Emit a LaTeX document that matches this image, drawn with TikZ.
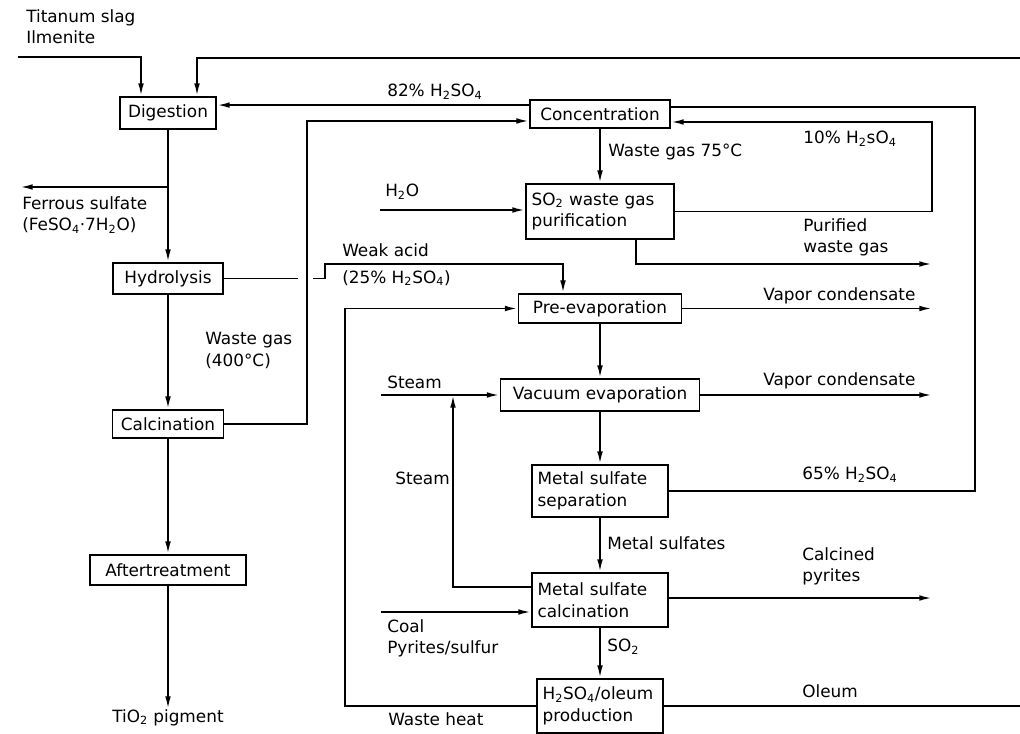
\documentclass[tikz,border=0pt]{standalone}
\usepackage{fontspec}
\setmainfont{DejaVu Sans}
\usepackage{tikz}
\usetikzlibrary{arrows.meta, calc, positioning}

\newcommand{\lblfont}{\fontsize{12}{15.5}\selectfont}
\newcommand{\hso}[1][S]{H\textsubscript{2}#1O\textsubscript{4}}

\tikzset{
	unit/.style={draw, line width=1.3pt, inner sep=4pt, font=\lblfont},
	unittwo/.style={unit, align=left},
	lbl/.style={inner sep=0pt, font=\lblfont, align=left, anchor=north west},
	flow/.style={line width=1.3pt, -{Latex[length=9pt,width=4pt]}},
	openflow/.style={line width=1.3pt, -{Latex[open,length=9pt,width=4pt]}},
	pipe/.style={line width=1.3pt}
}

\begin{document}
\begin{tikzpicture}[x=0.025cm, y=-0.025cm]
		\useasboundingbox (0,0) rectangle (1020,734);
		% pigment line
		\node[unit, minimum width=2.4cm, minimum height=0.8cm] (dig) at (168,113) {Digestion};
		\node[unit, minimum width=2.75cm, minimum height=0.775cm] (hyd) at (168,278.5) {Hydrolysis};
		\node[unit, minimum width=2.775cm, minimum height=0.7cm] (calc) at (168,424) {Calcination};
		\node[unit, minimum width=3.9cm, minimum height=0.75cm] (after) at (168,570) {Aftertreatment};
		\node[lbl, anchor=north] (pig) at (168,709) {TiO\textsubscript{2} pigment};
		% acid recovery
		\node[unit, minimum width=3.5cm, minimum height=0.7cm] (conc) at (600,114) {Concentration};
		\node[unittwo, text width=3.42cm, minimum height=1.375cm] (so2) at (600,211.5) {SO\textsubscript{2} waste gas\\purification};
		\node[unit, minimum width=4.075cm, minimum height=0.725cm] (pre) at (600,308.5) {Pre-evaporation};
		\node[unit, minimum width=4.975cm, minimum height=0.8cm] (vac) at (600,395) {Vacuum evaporation};
		\node[unittwo, text width=3.12cm, minimum height=1.3cm] (sep) at (600,491) {Metal sulfate\\separation};
		\node[unittwo, text width=3.12cm, minimum height=1.35cm] (mcal) at (600,600) {Metal sulfate\\calcination};
		\node[unittwo, text width=2.87cm, minimum height=1.35cm] (ole) at (600,706) {\hso/oleum\\production};
		
		\coordinate (tsin) at (18,57);
		\coordinate (tsbend) at (141,57);
		\coordinate (retin) at (1020,58);
		\coordinate (retbend) at (197,58);
		\coordinate (fsj) at (168,187);
		\coordinate (fsout) at (20,187);
		\coordinate (h82) at ([yshift=-0.15cm]conc.north west);
		\coordinate (r10) at (932,122);
		\coordinate (pwout) at (932,264);
		\coordinate (h2oin) at (380,210);
		\coordinate (wgx) at (307,121);
		\coordinate (wa1) at (298,278.5);
		\coordinate (wa2) at (313,278.5);
		\coordinate (wa3) at (325,264);
		\coordinate (wa4) at (563,264);
		\coordinate (vc1) at (932,308.5);
		\coordinate (vc2) at (932,395);
		\coordinate (stin) at (381,395);
		\coordinate (r65) at (975,107);
		\coordinate (stx) at (453,587);
		\coordinate (coin) at (381,612);
		\coordinate (cpout) at (932,598);
		\coordinate (olout) at (1020,706);
		\coordinate (wh) at (345,706);
		
		\draw[flow] (tsin) -- (tsbend) -- (tsbend |- dig.north);
		\draw[flow] (retin) -- (retbend) -- (retbend |- dig.north);
		\draw[flow] (dig) -- (hyd);
		\draw[openflow] (fsj) -- (fsout);
		\draw[flow] (hyd) -- (calc);
		\draw[flow] (calc) -- (after);
		\draw[flow] (after) -- (pig);
		
		\draw[flow] (h82) -- (h82 -| dig.east);
		\draw[flow] (conc) -- (so2);
		\draw[flow] (h2oin) -- (h2oin -| so2.west);
		\draw[flow] (so2.east) -| (r10) -- (r10 -| conc.east);
		\draw[flow] ([xshift=0.9cm]so2.south) |- (pwout);
		\draw[flow] (calc.east) -| (wgx) -- (wgx -| conc.west);
		\draw[pipe] (hyd.east) -- (wa1);
		\draw[flow] (wa2) -| (wa3) -- (wa4) -- (wa4 |- pre.north);
		\draw[flow] (pre.east) -- (vc1);
		\draw[flow] (pre) -- (vac);
		\draw[flow] (vac.east) -- (vc2);
		\draw[flow] (stin) -- (vac.west);
		\draw[flow] (vac) -- (sep);
		\draw[pipe] (sep.east) -| (r65) -- (r65 -| conc.east);
		\draw[flow] (sep) -- (mcal);
		\draw[flow] (mcal.west |- stx) -- (stx) -- (stx |- stin);
		\draw[flow] (coin) -- (coin -| mcal.west);
		\draw[flow] (mcal.east |- cpout) -- (cpout);
		\draw[flow] (mcal) -- (ole);
		\draw[pipe] (ole.east) -- (olout);
		\draw[flow] (ole.west) -- (wh) |- (pre.west);
		
		\node[lbl] (lts) at (26,9) {Titanum slag\\Ilmenite};
		\node[lbl] (lfs) at (22,196) {Ferrous sulfate\\(FeSO\textsubscript{4}·7H\textsubscript{2}O)};
		\node[lbl] (l82) at (387,84) {82\% \hso};
		\node[lbl] (lwg75) at (608,144) {Waste gas 75°C};
		\node[lbl] (l10) at (803,131) {10\% \hso[s]};
		\node[lbl] (lh2o) at (385,184) {H\textsubscript{2}O};
		\node[lbl] (lpw) at (803,218) {Purified\\waste gas};
		\node[lbl] (lwa) at (342,243) {Weak acid};
		\node[lbl] (l25) at (342,270) {(25\% \hso)};
		\node[lbl] (lwg400) at (205,332) {Waste gas\\(400°C)};
		\node[lbl] (lvc1) at (763,287) {Vapor condensate};
		\node[lbl] (lvc2) at (763,372) {Vapor condensate};
		\node[lbl] (lst1) at (387,376) {Steam};
		\node[lbl] (lst2) at (395,472) {Steam};
		\node[lbl] (lms) at (607,536) {Metal sulfates};
		\node[lbl] (l65) at (802,467) {65\% \hso};
		\node[lbl] (lcp) at (802,547) {Calcined\\pyrites};
		\node[lbl] (lcoal) at (387,619) {Coal\\Pyrites/sulfur};
		\node[lbl] (lso2) at (607,639) {SO\textsubscript{2}};
		\node[lbl] (lol) at (802,684) {Oleum};
		\node[lbl] (lwh) at (388,712) {Waste heat};
	\end{tikzpicture}
\end{document}
